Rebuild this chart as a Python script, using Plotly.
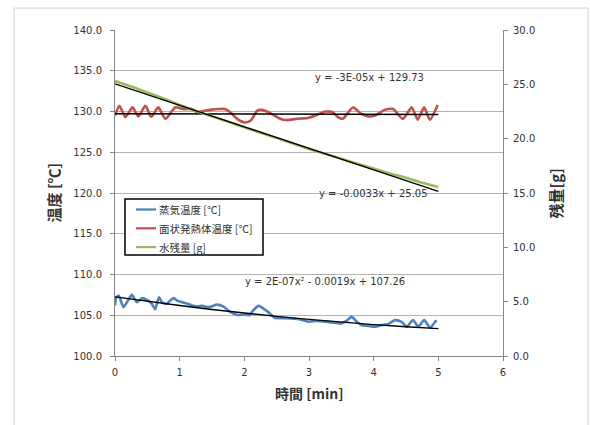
import plotly.graph_objects as go
import numpy as np

# ---- data ----
steam_t = [0.00, 0.02, 0.06, 0.13, 0.20, 0.26, 0.34, 0.42, 0.50, 0.57, 0.62, 0.68, 0.73, 0.80,
           0.86, 0.91, 0.96, 1.04, 1.11, 1.19, 1.27, 1.35, 1.45, 1.58, 1.68, 1.78, 1.91, 2.00,
           2.07, 2.15, 2.22, 2.35, 2.47, 2.60, 2.73, 2.85, 2.99, 3.12, 3.25, 3.40, 3.50, 3.58,
           3.66, 3.74, 3.81, 3.92, 4.02, 4.12, 4.22, 4.33, 4.43, 4.51, 4.61, 4.69, 4.78, 4.87, 4.97]
steam_temp = [106.2, 107.2, 107.4, 106.0, 106.8, 107.5, 106.6, 107.1, 106.85, 106.4, 105.75, 107.2,
              106.55, 106.4, 106.85, 107.1, 106.8, 106.6, 106.45, 106.2, 106.1, 106.15, 106.0, 106.3,
              106.05, 105.4, 105.0, 105.1, 105.0, 105.7, 106.15, 105.5, 104.7, 104.65, 104.6, 104.5,
              104.2, 104.3, 104.2, 104.1, 104.0, 104.3, 104.8, 104.2, 103.8, 103.7, 103.6, 103.8,
              103.9, 104.4, 104.2, 103.6, 104.4, 103.6, 104.4, 103.5, 104.4]

heater_t = [0.00, 0.07, 0.16, 0.27, 0.36, 0.47, 0.56, 0.67, 0.78, 0.93, 1.05, 1.19, 1.27, 1.38,
            1.47, 1.60, 1.70, 1.80, 1.86, 1.95, 2.01, 2.10, 2.20, 2.27, 2.40, 2.53, 2.60, 2.68,
            2.80, 2.98, 3.10, 3.25, 3.37, 3.45, 3.52, 3.68, 3.81, 3.92, 4.02, 4.17, 4.30, 4.45,
            4.59, 4.68, 4.78, 4.87, 4.99]
heater_temp = [129.5, 130.7, 129.3, 130.5, 129.4, 130.7, 129.35, 130.5, 129.1, 130.5, 130.3, 130.3,
               129.9, 130.1, 130.2, 130.3, 130.3, 129.8, 129.3, 128.8, 128.65, 128.9, 130.1, 130.2,
               129.8, 129.2, 129.0, 128.95, 129.1, 129.2, 129.5, 130.0, 129.9, 129.3, 129.1, 130.5,
               129.7, 129.4, 129.5, 130.2, 130.3, 129.1, 130.5, 129.0, 130.5, 129.0, 130.8]

water_t = [0.0, 0.25, 0.5, 0.75, 1.0, 1.25, 1.5, 1.75, 2.0, 2.25, 2.5, 2.75, 3.0, 3.25, 3.5,
           3.75, 4.0, 4.25, 4.5, 4.75, 5.0]
water_g = [25.3, 24.8, 24.25, 23.7, 23.1, 22.55, 22.05, 21.55, 21.05, 20.55, 20.05, 19.55, 19.05,
           18.6, 18.15, 17.7, 17.25, 16.8, 16.4, 15.95, 15.55]

# trendline coefficients as shown on the chart (x = sample index, 600 samples per minute)
steam_coef = [2e-07, -0.0019, 107.26]
heater_coef = [-3e-05, 129.73]
water_coef = [-0.0033, 25.05]
samples_per_min = 600
trend_t = [0.0, 0.5, 1.0, 1.5, 2.0, 2.5, 3.0, 3.5, 4.0, 4.5, 5.0]

names = ["蒸気温度 [℃]", "面状発熱体温度 [℃]", "水残量 [g]"]
eq_texts = ["y = -3E-05x + 129.73", "y = -0.0033x + 25.05", "y = 2E-07x² - 0.0019x + 107.26"]

BLUE, RED, GREEN = "#4f81bd", "#c0504d", "#9bbb59"
COLORS = [BLUE, RED, GREEN]
FONT = "DejaVu Sans, Noto Sans CJK JP"
JFONT = "Noto Sans CJK JP"

tx = np.array(trend_t) * samples_per_min

fig = go.Figure()
fig.add_trace(go.Scatter(x=steam_t, y=steam_temp, mode="lines", name=names[0], showlegend=False,
                         line=dict(color=BLUE, width=2.6, shape="spline", smoothing=0.6)))
fig.add_trace(go.Scatter(x=heater_t, y=heater_temp, mode="lines", name=names[1], showlegend=False,
                         line=dict(color=RED, width=2.6, shape="spline", smoothing=0.6)))
fig.add_trace(go.Scatter(x=trend_t, y=np.polyval(steam_coef, tx), mode="lines", showlegend=False,
                         line=dict(color="black", width=1.4), hoverinfo="skip"))
fig.add_trace(go.Scatter(x=trend_t, y=np.polyval(heater_coef, tx), mode="lines", showlegend=False,
                         line=dict(color="black", width=1.4), hoverinfo="skip"))
fig.add_trace(go.Scatter(x=water_t, y=water_g, mode="lines", name=names[2], yaxis="y2", showlegend=False,
                         line=dict(color=GREEN, width=2.6, shape="spline")))
fig.add_trace(go.Scatter(x=trend_t, y=np.polyval(water_coef, tx), mode="lines", showlegend=False,
                         yaxis="y2", line=dict(color="black", width=1.4), hoverinfo="skip"))

axis_common = dict(showline=True, linecolor="#868686", linewidth=1, ticks="outside",
                   ticklen=4, tickcolor="#868686", tickfont=dict(family=FONT, size=10, color="#333333"),
                   zeroline=False)

fig.update_layout(
    width=590, height=425,
    margin=dict(l=115, r=87, t=30, b=69),
    paper_bgcolor="white", plot_bgcolor="white",
    font=dict(family=FONT, color="#333333"),
    xaxis=dict(range=[0, 6], dtick=1, showgrid=False, ticklabelstandoff=3, **axis_common),
    yaxis=dict(range=[100, 140], dtick=5, tickformat=".1f", showgrid=True,
               gridcolor="#b3b3b3", gridwidth=1, ticklabelstandoff=6, **axis_common),
    yaxis2=dict(range=[0, 30], dtick=5, tickformat=".1f", overlaying="y", side="right",
                showgrid=False, ticklabelstandoff=3, **axis_common),
    showlegend=False,
)

# pixel helpers for layout elements (plot area: x 115..503, y 30..356)
def px(x):
    return (x - 115) / 388.0

def py(y):
    return (356 - y) / 326.0

# outer chart border
fig.add_shape(type="rect", xref="paper", yref="paper", x0=px(14), x1=px(588), y0=py(440), y1=py(8),
              line=dict(color="#d0d0d0", width=1), layer="below")

# legend box
fig.add_shape(type="rect", xref="paper", yref="paper", x0=px(125), x1=px(263), y0=py(255), y1=py(199),
              line=dict(color="black", width=1.5), fillcolor="white", layer="above")
for i, (nm, col) in enumerate(zip(names, COLORS)):
    yy = 209.5 + i * 18.8
    fig.add_shape(type="line", xref="paper", yref="paper", x0=px(136), x1=px(156), y0=py(yy), y1=py(yy),
                  line=dict(color=col, width=2.2), layer="above")
    fig.add_annotation(text=nm, xref="paper", yref="paper", x=px(157), y=py(yy), xanchor="left",
                       yanchor="middle", showarrow=False, font=dict(family=JFONT, size=10.5, color="#333333"))

# axis titles
fig.add_annotation(text="<b>時間 [min]</b>", xref="paper", yref="paper", x=px(309), y=py(393),
                   yanchor="middle", showarrow=False, font=dict(family=JFONT, size=14, color="#333333"))
fig.add_annotation(text="<b>温度 [℃]</b>", xref="paper", yref="paper", x=px(40), y=py(193),
                   textangle=-90, showarrow=False, font=dict(family=JFONT, size=15, color="#333333"))
fig.add_annotation(text="<b>残量[g]</b>", xref="paper", yref="paper", x=px(567), y=py(194),
                   textangle=-90, showarrow=False, font=dict(family=JFONT, size=15, color="#333333"))

# trendline equations
eq_pos = [(3.93, 134.2), (3.99, 120.0), (3.25, 109.1)]
for txt, (ex, ey) in zip(eq_texts, eq_pos):
    fig.add_annotation(text=txt, x=ex, y=ey, xref="x", yref="y", showarrow=False,
                       font=dict(family=FONT, size=10, color="#333333"))

fig.write_html("out.html", config={"displayModeBar": False},
               post_script="document.body.style.margin='0';document.body.style.overflow='hidden';")
